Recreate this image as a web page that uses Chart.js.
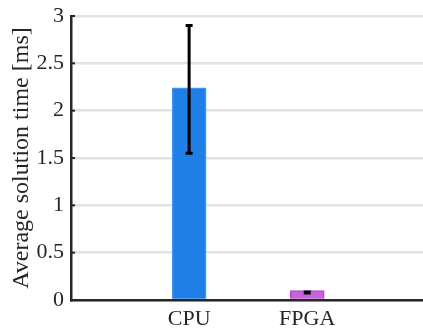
<!DOCTYPE html>
<html>
<head>
<meta charset="utf-8">
<script src="https://cdn.jsdelivr.net/npm/chart.js@4"></script>
<style>
    html, body { margin: 0; padding: 0; background: #fff; }
    #wrap { width: 423px; height: 331px; }
</style>
</head>
<body>
<div id="wrap"><canvas id="timeChart" width="423" height="331"></canvas></div>
<script>
// ==========================================
// DATA
// ==========================================
const categories = ['CPU', 'FPGA'];
const meanTimes = [2.24, 0.10];
const errLow = [1.55, 0.075];
const errHigh = [2.90, 0.085];
const yTicks = [0, 0.5, 1, 1.5, 2, 2.5, 3];

const barFill = ['#1f7fe6', '#c564d8'];
const barEdge = ['#4194ee', '#b34acd'];

const axisColor = '#262626';
const serif = '"Liberation Serif", "DejaVu Serif", serif';

// error bars + inward y tick marks, drawn through the chart scales
const errorBarPlugin = {
    id: 'errorBars',
    afterDatasetsDraw(chart) {
        const ctx = chart.ctx;
        const xs = chart.scales.x;
        const ys = chart.scales.y;
        ctx.save();
        ctx.strokeStyle = '#000';
        ctx.lineWidth = 3;
        categories.forEach((c, i) => {
            const px = xs.getPixelForValue(i + 1);
            const top = ys.getPixelForValue(errHigh[i]);
            const bot = ys.getPixelForValue(errLow[i]);
            ctx.beginPath();
            ctx.moveTo(px, top);
            ctx.lineTo(px, bot);
            ctx.moveTo(px - 3.5, top);
            ctx.lineTo(px + 3.5, top);
            ctx.moveTo(px - 3.5, bot);
            ctx.lineTo(px + 3.5, bot);
            ctx.stroke();
        });
        // little inward ticks on the left axis
        ctx.strokeStyle = axisColor;
        ctx.lineWidth = 2;
        yTicks.forEach(v => {
            const py = ys.getPixelForValue(v);
            ctx.beginPath();
            ctx.moveTo(chart.chartArea.left, py);
            ctx.lineTo(chart.chartArea.left + 4, py);
            ctx.stroke();
        });
        ctx.restore();
    }
};

const ctx = document.getElementById('timeChart').getContext('2d');

new Chart(ctx, {
    type: 'bar',
    data: {
        datasets: [{
            data: meanTimes.map((v, i) => ({ x: i + 1, y: v })),
            backgroundColor: barFill,
            borderColor: barEdge,
            borderWidth: 1.5,
            barThickness: 34
        }]
    },
    options: {
        responsive: false,
        animation: false,
        layout: { padding: { top: 16, right: 0, left: 0, bottom: 0 } },
        plugins: {
            legend: { display: false },
            tooltip: { enabled: false }
        },
        scales: {
            x: {
                type: 'linear',
                min: 0,
                max: 2.98,
                offset: false,
                afterBuildTicks: (scale) => {
                    scale.ticks = categories.map((c, i) => ({ value: i + 1 }));
                },
                afterFit: (scale) => {
                    scale.height = 31;
                    scale.paddingLeft = 0;
                    scale.paddingRight = 0;
                },
                ticks: {
                    callback: (v) => categories[v - 1] || '',
                    color: axisColor,
                    font: { family: serif, size: 22 },
                    padding: 6,
                    maxRotation: 0
                },
                grid: { display: false, drawTicks: false },
                border: { color: axisColor, width: 2.5 }
            },
            y: {
                min: 0,
                max: 3,
                afterBuildTicks: (scale) => {
                    scale.ticks = yTicks.map(v => ({ value: v }));
                },
                afterFit: (scale) => {
                    scale.width = 71;
                    // keep the plot area set by layout padding only
                    scale.paddingTop = 0;
                    scale.paddingBottom = 0;
                },
                ticks: {
                    callback: (v) => String(v),
                    color: axisColor,
                    font: { family: serif, size: 22 },
                    padding: 7
                },
                grid: {
                    color: '#e2e2e2',
                    lineWidth: 2.5,
                    drawTicks: false
                },
                border: { color: axisColor, width: 2.5 },
                title: {
                    display: true,
                    text: 'Average solution time [ms]',
                    color: axisColor,
                    font: { family: serif, size: 24 },
                    padding: { top: 7, bottom: 0 }
                }
            }
        }
    },
    plugins: [errorBarPlugin]
});
</script>
</body>
</html>
